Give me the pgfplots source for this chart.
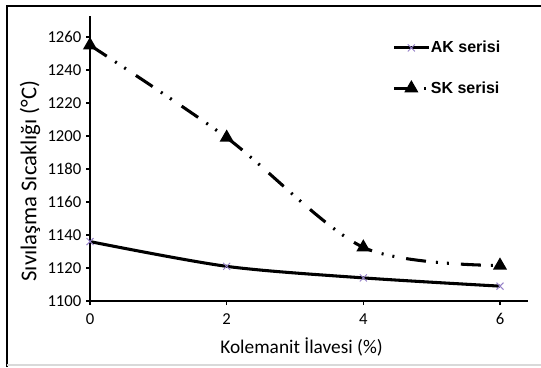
\documentclass[border=0pt]{standalone}
\usepackage{pgfplots}
\pgfplotsset{compat=1.18}
\usepackage{fontspec}
\setmainfont{Carlito}
\newfontfamily\legfont{Liberation Sans}
\definecolor{akmark}{RGB}{150,130,200}
\begin{document}
\begin{tikzpicture}
\useasboundingbox (0,0) rectangle (405.75pt,275.25pt);
\draw[black, line width=1.2pt] (5.25pt,0pt) -- (5.25pt,270.75pt) -- (405.75pt,270.75pt);
\draw[black!15, line width=1pt] (5.25pt,1.5pt) -- (405.75pt,1.5pt);
\begin{axis}[
  at={(67.5pt,49.5pt)}, anchor=south west,
  scale only axis, width=328.5pt, height=213.75pt,
  xmin=0, xmax=6.41, ymin=1100, ymax=1272.7,
  axis lines=left,
  axis line style={-, line width=1.3pt},
  xtick={0,2,4,6}, ytick={1100,1120,...,1260},
  tick align=outside, major tick length=3pt,
  tick style={black, line width=1pt},
  ticklabel style={font=\fontsize{12.5}{14}\selectfont},
  xticklabel style={yshift=-3pt},
  /pgf/number format/assume math mode=true,
  /pgf/number format/1000 sep={},
  xlabel={Kolemanit İlavesi (\%)},
  ylabel={Sıvılaşma Sıcaklığı (°C)},
  xlabel style={font=\fontsize{14.5}{16}\selectfont,
    at={(axis description cs:0.483,-0.161)}, anchor=center},
  ylabel style={font=\fontsize{17}{19}\selectfont,
    at={(axis description cs:-0.137,0.421)}, anchor=center, rotate=0},
  legend style={at={(0.69,0.915)}, anchor=north west, draw=none, fill=none,
    font=\legfont\bfseries\fontsize{12}{14}\selectfont, row sep=19pt,
    inner sep=0pt, nodes={inner sep=0.5pt}},
  legend image code/.code={
    \draw[mark repeat=2,mark phase=2,#1] plot coordinates {(0pt,0pt) (13pt,0pt) (26pt,0pt)};},
  legend cell align=left,
  clip=false,
]
\addplot[smooth, solid, black, line width=2.3pt, mark=x, mark size=3.75pt,
  mark options={akmark, line width=0.7pt, solid}]
  coordinates {(0,1136) (2,1121) (4,1114) (6,1109)};
\addlegendentry{AK serisi}
\addplot[smooth, black, line width=2.3pt,
  dash pattern=on 15pt off 7.5pt on 1.5pt off 6.75pt on 1.5pt off 9pt,
  mark=triangle*, mark size=3.8pt, mark options={black, solid}]
  coordinates {(0,1255) (2,1199) (4,1132.5) (6,1121.5)};
\addlegendentry{SK serisi}
\end{axis}
\end{tikzpicture}
\end{document}
